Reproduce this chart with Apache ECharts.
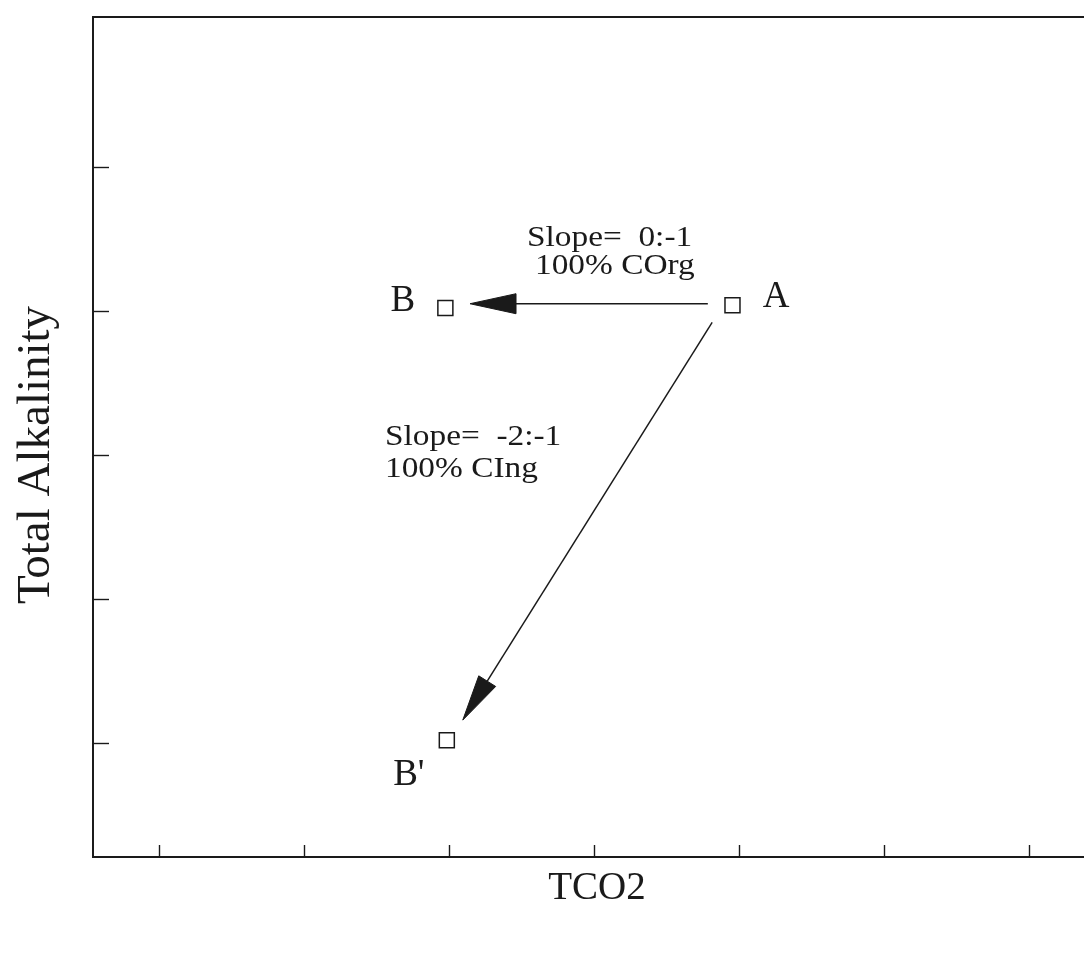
<!DOCTYPE html>
<html>
<head>
<meta charset="utf-8">
<script src="https://cdn.jsdelivr.net/npm/echarts@6/dist/echarts.min.js"></script>
<style>
  html, body { margin: 0; padding: 0; background: #fff; overflow: hidden; }
  /* the frame runs on past the right edge of the page */
  #chart { width: 1100px; height: 964px; }
</style>
</head>
<body>
<div id="chart"></div>
<script>
// Schematic: how organic vs inorganic carbon uptake moves water in TA / TCO2 space
const tco2Ticks = [1, 2, 3, 4, 5, 6, 7];
const alkTicks = [1, 2, 3, 4, 5];

const pointNames = ['A', 'B', "B'"];
const pointTCO2 = [4.95, 2.97, 2.98];
const pointAlk = [4.04, 4.02, 1.02];

// arrows: start (tail) and end (tip) in axis units
const arrowNames = ['organic', 'inorganic'];
const arrowFromTCO2 = [4.78, 4.81];
const arrowFromAlk = [4.05, 3.92];
const arrowToTCO2 = [3.14, 3.09];
const arrowToAlk = [4.05, 1.16];

const SERIF = '"Liberation Serif", "DejaVu Serif", serif';
const INK = '#1a1a1a';

const chart = echarts.init(document.getElementById('chart'), null, { renderer: 'canvas' });

const labelPos = {
  'A': { position: 'right', offset: [17, -8] },
  'B': { position: 'left', offset: [-17, -7] },
  "B'": { position: 'bottom', offset: [-38, 3] }
};

const pointData = pointNames.map((n, i) => ({
  name: n,
  value: [pointTCO2[i], pointAlk[i]],
  label: Object.assign({
    show: true,
    formatter: n,
    fontFamily: SERIF,
    fontSize: 37,
    color: INK
  }, labelPos[n])
}));

const arrowData = arrowNames.map((n, i) => [arrowFromTCO2[i], arrowFromAlk[i], arrowToTCO2[i], arrowToAlk[i]]);

function renderArrow(params, api) {
  const p0 = api.coord([api.value(0), api.value(1)]);
  const p1 = api.coord([api.value(2), api.value(3)]);
  const dx = p1[0] - p0[0], dy = p1[1] - p0[1];
  const len = Math.sqrt(dx * dx + dy * dy);
  const ux = dx / len, uy = dy / len;
  const headLen = 46, headHalf = 10;
  const bx = p1[0] - ux * headLen, by = p1[1] - uy * headLen;
  const nx = -uy, ny = ux;
  return {
    type: 'group',
    children: [
      {
        type: 'line',
        shape: { x1: p0[0], y1: p0[1], x2: bx, y2: by },
        style: { stroke: INK, lineWidth: 1.5 }
      },
      {
        type: 'polygon',
        shape: {
          points: [
            [p1[0], p1[1]],
            [bx + nx * headHalf, by + ny * headHalf],
            [bx - nx * headHalf, by - ny * headHalf]
          ]
        },
        style: { fill: INK, stroke: INK, lineWidth: 1 }
      }
    ]
  };
}

// annotation text is set a little wide, like the original's screen serif
const noteFont = '29px ' + SERIF;
const noteStretch = 1.15;

function note(text, x, y) {
  return {
    type: 'text',
    x: x,
    y: y,
    scaleX: noteStretch,
    style: { text: text, font: noteFont, fill: INK, textVerticalAlign: 'top' }
  };
}

const option = {
  backgroundColor: '#fff',
  animation: false,
  grid: {
    left: 93,
    top: 17,
    right: 5,
    bottom: 107,
    show: true,
    borderColor: INK,
    borderWidth: 1.8,
    backgroundColor: 'transparent'
  },
  xAxis: {
    type: 'value',
    min: 0.54,
    max: 7.45,
    name: 'TCO2',
    nameLocation: 'middle',
    nameGap: 12,
    nameTextStyle: { fontFamily: SERIF, fontSize: 39, color: INK, verticalAlign: 'top', padding: [0, 0, 0, 6] },
    axisLine: { show: true, onZero: false, lineStyle: { color: INK, width: 1.8 } },
    axisTick: { show: true, inside: true, length: 12, customValues: tco2Ticks, lineStyle: { color: INK, width: 1.4 } },
    axisLabel: { show: false },
    splitLine: { show: false }
  },
  yAxis: {
    type: 'value',
    min: 0.21,
    max: 6.04,
    name: 'Total Alkalinity',
    nameLocation: 'middle',
    nameGap: 33,
    nameRotate: 90,
    nameTextStyle: { fontFamily: SERIF, fontSize: 47, color: INK, padding: [0, 36, 0, 0] },
    axisLine: { show: true, onZero: false, lineStyle: { color: INK, width: 1.8 } },
    axisTick: { show: true, inside: true, length: 16, customValues: alkTicks, lineStyle: { color: INK, width: 1.4 } },
    axisLabel: { show: false },
    splitLine: { show: false }
  },
  series: [
    {
      type: 'custom',
      name: 'pathways',
      renderItem: renderArrow,
      data: arrowData,
      silent: true,
      z: 2
    },
    {
      type: 'scatter',
      name: 'waters',
      symbol: 'rect',
      symbolSize: 15,
      itemStyle: { color: '#fff', borderColor: INK, borderWidth: 1.5, opacity: 1 },
      data: pointData,
      z: 3
    }
  ],
  graphic: [
    note('Slope=  0:-1', 527, 224),
    note('100% COrg', 535, 252),
    note('Slope=  -2:-1', 385, 423),
    note('100% CIng', 385, 455)
  ]
};

chart.setOption(option);
</script>
</body>
</html>
